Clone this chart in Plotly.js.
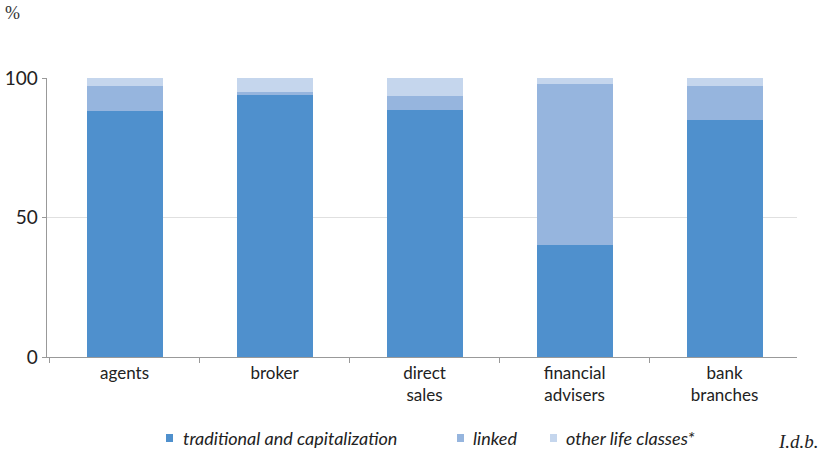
<!DOCTYPE html>
<html><head><meta charset="utf-8">
<script src="https://cdn.plot.ly/plotly-3.0.1.min.js"></script>
<style>body{margin:0;background:#fff}#c{width:822px;height:451px}</style>
</head><body><div id="c"></div>
<script>
const categories = ["agents","broker","direct<br>sales","financial<br>advisers","bank<br>branches"];
const traditional = [88, 94, 88.5, 40, 85];
const linked = [9, 1, 5, 58, 12];
const otherLife = [3, 5, 6.5, 2, 3];
const seriesNames = ["traditional and capitalization","linked","other life classes*"];
const colors = ["#4f90cd","#96b5de","#c5d6ed"];
const yTicks = [0,50,100];

// plot box in pixels
const L = 47, R = 797, T = 78, B = 357;
const px = x => (x - L) / (R - L);
const py = y => (B - y) / (B - T);

const FONT = "Lato, 'Open Sans', sans-serif";
const traces = [traditional, linked, otherLife].map((v,i)=>({
  type:"bar", x:categories, y:v, name:seriesNames[i],
  marker:{color:colors[i], line:{width:0}}, width:0.507,
  hoverinfo:"none", showlegend:false
}));

// legend built from series names/colours
const legSq = [166, 457, 550];
const legTx = [181, 471, 564];
const shapes = seriesNames.map((n,i)=>({
  type:"rect", xref:"paper", yref:"paper",
  x0:px(legSq[i]), x1:px(legSq[i]+7), y0:py(442), y1:py(434),
  fillcolor:colors[i], line:{width:0}
}));
const annotations = seriesNames.map((n,i)=>({
  text:n, xref:"paper", yref:"paper", x:px(legTx[i]), y:py(438), xanchor:"left", yanchor:"middle",
  showarrow:false, font:{family:FONT, size:18, style:"italic", color:"#222"}
}));
annotations.push(
  {text:"%", xref:"paper", yref:"paper", x:px(3), y:py(13), xanchor:"left", yanchor:"middle", showarrow:false,
   font:{family:"Liberation Serif, serif", size:18, color:"#333"}},
  {text:"<i>I.d.b.</i>", xref:"paper", yref:"paper", x:px(821), y:py(441), xanchor:"right", yanchor:"middle", showarrow:false,
   font:{family:"Liberation Serif, serif", size:19, color:"#222"}}
);

const layout = {
  width:822, height:451, barmode:"stack", bargap:0,
  margin:{l:L, r:822-R, t:T, b:451-B, pad:0},
  paper_bgcolor:"#fff", plot_bgcolor:"#fff",
  xaxis:{type:"category", range:[-0.517,4.483], tickson:"boundaries", ticks:"outside", ticklen:5,
    tickcolor:"#999", showline:true, linecolor:"#999", linewidth:1.3, showgrid:false, fixedrange:true,
    tickfont:{family:FONT, size:17, color:"#222"}},
  yaxis:{range:[0,100], tickvals:yTicks, ticks:"outside", ticklen:4, tickcolor:"#999", showline:true,
    linecolor:"#999", linewidth:1.3, gridcolor:"#e0e0e0", gridwidth:1.5, zeroline:false, fixedrange:true,
    tickfont:{family:FONT, size:19, color:"#222"}},
  shapes:shapes, annotations:annotations, showlegend:false
};
Plotly.newPlot("c", traces, layout, {displayModeBar:false, staticPlot:true});
</script></body></html>
